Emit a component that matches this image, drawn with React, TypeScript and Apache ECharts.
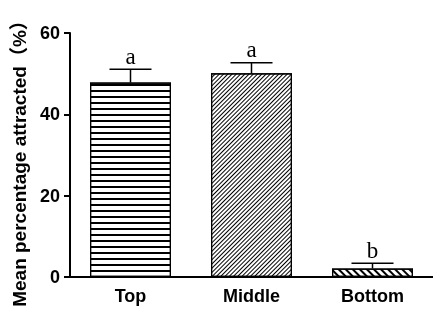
import React, { useEffect, useRef } from "react";
import * as echarts from "echarts";

const categories = ["Top", "Middle", "Bottom"];
const means = [47.8, 50.1, 2.1];
const errors = [3.3, 2.6, 1.3];
const letters = ["a", "a", "b"];
const yTicks = [0, 20, 40, 60];

export default function App() {
  const ref = useRef<HTMLDivElement>(null);
  useEffect(() => {
    const chart = echarts.init(ref.current!, undefined, { renderer: "svg" });
    const decals = [
      { symbol: "rect", dashArrayX: [1, 0], dashArrayY: [1.3, 3.7], rotation: 0, color: "#000", backgroundColor: "#fff" },
      { symbol: "rect", dashArrayX: [1, 0], dashArrayY: [1, 1.6], rotation: -Math.PI / 4, color: "#000", backgroundColor: "#fff" },
      { symbol: "rect", dashArrayX: [1, 0], dashArrayY: [1.2, 2.4], rotation: Math.PI / 4, color: "#000", backgroundColor: "#fff" },
    ];
    chart.setOption({
      animation: false,
      grid: { left: 70, top: 33, width: 366, height: 244 },
      xAxis: {
        type: "category",
        data: categories,
        axisLine: { lineStyle: { color: "#000", width: 2 } },
        axisTick: { alignWithLabel: true, length: 6, lineStyle: { color: "#000", width: 2 } },
        axisLabel: { color: "#000", fontSize: 18, fontWeight: "bold", fontFamily: "Liberation Sans", margin: 10 },
      },
      yAxis: {
        type: "value",
        min: 0,
        max: yTicks[yTicks.length - 1],
        interval: 20,
        name: "Mean percentage attracted（%）",
        nameLocation: "middle",
        nameGap: 36,
        nameTextStyle: {
          color: "#000",
          fontSize: 19,
          fontWeight: "bold",
          fontFamily: '"Liberation Sans", "Noto Sans CJK SC"',
          padding: [0, 8, 0, 0],
        },
        splitLine: { show: false },
        axisLine: { show: true, lineStyle: { color: "#000", width: 2 } },
        axisTick: { show: true, length: 6, lineStyle: { color: "#000", width: 2 } },
        axisLabel: { color: "#000", fontSize: 18, fontWeight: "bold", fontFamily: "Liberation Sans", margin: 10 },
      },
      series: [
        {
          type: "bar",
          barWidth: 81,
          data: means.map((v, i) => ({
            value: v,
            itemStyle: { color: "#fff", borderColor: "#000", borderWidth: 1.2, decal: decals[i] },
          })),
        },
        {
          type: "custom",
          z: 10,
          data: means.map((m, i) => [i, m, errors[i]]),
          renderItem: (params: any, api: any) => {
            const i = api.value(0);
            const m = api.value(1);
            const e = api.value(2);
            const base = api.coord([i, m]);
            const top = api.coord([i, m + e]);
            const half = 21;
            const st = { stroke: "#000", lineWidth: 1.5 };
            return {
              type: "group",
              children: [
                { type: "line", shape: { x1: top[0], y1: base[1], x2: top[0], y2: top[1] }, style: st },
                { type: "line", shape: { x1: top[0] - half, y1: top[1], x2: top[0] + half, y2: top[1] }, style: st },
                {
                  type: "text",
                  x: top[0],
                  y: top[1] - 13,
                  style: {
                    text: letters[params.dataIndex],
                    font: '23px "Liberation Serif"',
                    fill: "#000",
                    align: "center",
                    verticalAlign: "middle",
                  },
                },
              ],
            };
          },
        },
      ],
    });
    return () => chart.dispose();
  }, []);
  return <div ref={ref} style={{ position: "fixed", left: 0, top: 0, width: 433, height: 318 }} />;
}
